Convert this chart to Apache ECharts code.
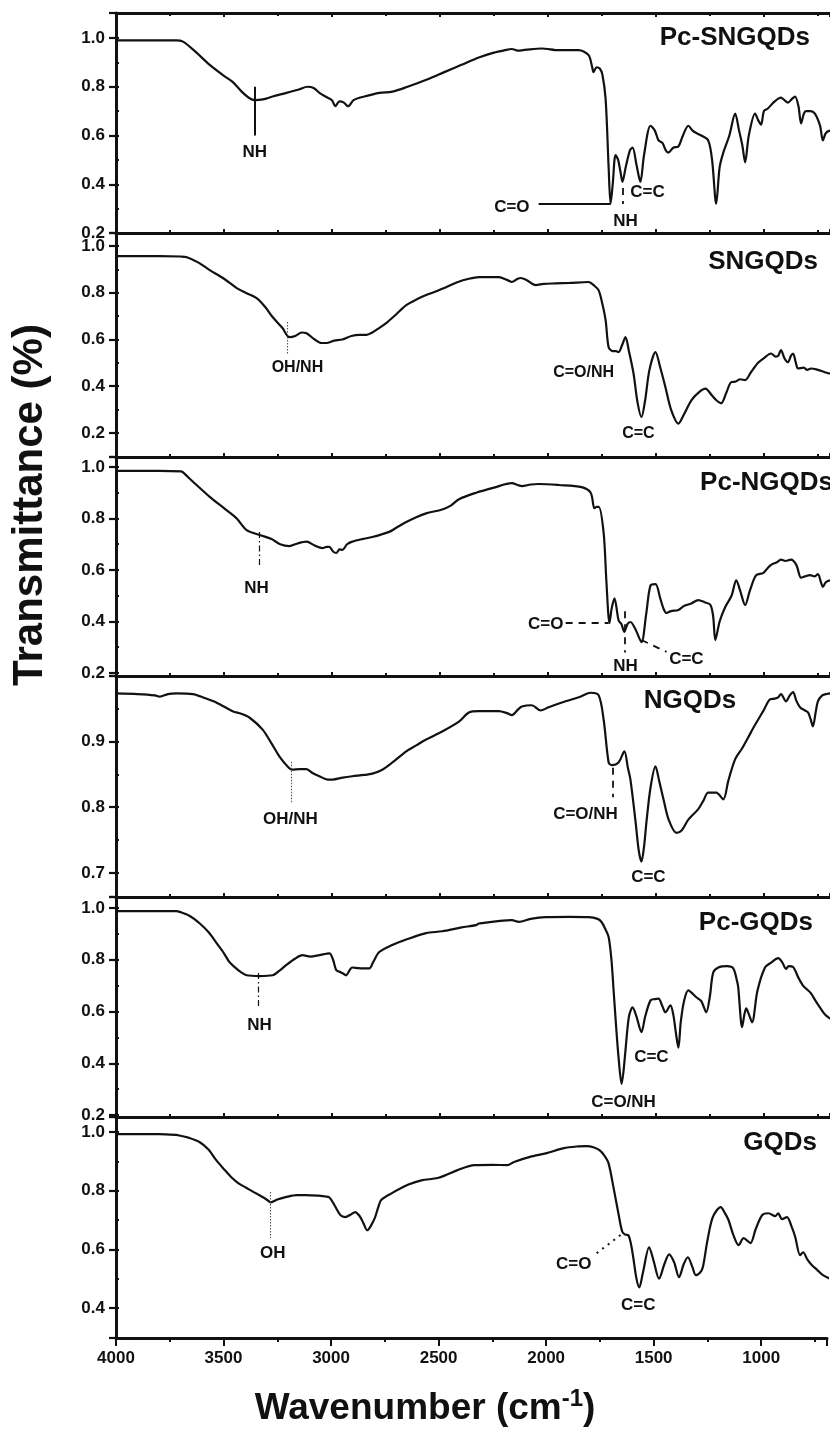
<!DOCTYPE html>
<html>
<head>
<meta charset="utf-8">
<title>FTIR spectra</title>
<script src="https://cdn.jsdelivr.net/npm/echarts@6/dist/echarts.min.js"></script>
<style>
  html, body { margin: 0; padding: 0; background: #fff; }
  #chart { width: 830px; height: 1431px; }
</style>
</head>
<body>
<div id="chart"></div>
<script>
// ---- Spectra: [wavenumber (cm-1), transmittance] ----
const pcSNGQDs = [
  [4000,0.99],[3800,0.99],[3720,0.99],[3690,0.985],[3640,0.95],[3566,0.89],[3500,0.845],[3460,0.82],
  [3418,0.78],[3385,0.755],[3358,0.745],[3320,0.748],[3275,0.76],[3211,0.775],[3150,0.79],[3114,0.80],
  [3085,0.795],[3058,0.775],[3030,0.76],[3000,0.745],[2985,0.72],[2965,0.74],[2945,0.735],[2925,0.72],
  [2900,0.745],[2850,0.76],[2780,0.775],[2720,0.78],[2650,0.80],[2560,0.83],[2480,0.86],[2400,0.89],
  [2320,0.92],[2250,0.94],[2200,0.95],[2167,0.955],[2140,0.948],[2100,0.952],[2029,0.957],[1950,0.95],
  [1858,0.95],[1812,0.93],[1795,0.88],[1789,0.86],[1775,0.88],[1760,0.875],[1748,0.85],[1733,0.75],
  [1719,0.47],[1710,0.32],[1700,0.40],[1687,0.52],[1675,0.50],[1664,0.45],[1655,0.41],[1640,0.47],
  [1620,0.54],[1608,0.55],[1590,0.48],[1572,0.41],[1555,0.52],[1525,0.64],[1505,0.62],[1488,0.58],
  [1470,0.57],[1455,0.54],[1442,0.53],[1420,0.55],[1396,0.555],[1375,0.60],[1350,0.64],[1330,0.62],
  [1313,0.61],[1290,0.60],[1258,0.58],[1240,0.50],[1221,0.32],[1205,0.47],[1188,0.53],[1160,0.60],
  [1133,0.69],[1115,0.62],[1100,0.56],[1087,0.49],[1070,0.60],[1041,0.69],[1025,0.66],[1013,0.645],
  [1000,0.70],[983,0.71],[950,0.74],[921,0.755],[905,0.745],[889,0.735],[870,0.75],[856,0.76],
  [840,0.72],[828,0.65],[815,0.69],[805,0.70],[785,0.70],[764,0.69],[740,0.64],[727,0.58],
  [713,0.61],[690,0.62],[650,0.60],[600,0.60]
];
const sNGQDs = [
  [4000,0.957],[3800,0.957],[3700,0.955],[3672,0.952],[3620,0.93],[3566,0.897],[3500,0.86],[3441,0.82],
  [3400,0.80],[3349,0.777],[3310,0.74],[3275,0.696],[3230,0.65],[3197,0.61],[3170,0.615],[3140,0.63],
  [3118,0.627],[3080,0.60],[3050,0.585],[3026,0.585],[2990,0.595],[2952,0.60],[2910,0.615],[2873,0.62],
  [2840,0.62],[2813,0.63],[2780,0.65],[2749,0.67],[2700,0.71],[2656,0.747],[2600,0.775],[2564,0.79],
  [2520,0.805],[2472,0.824],[2420,0.845],[2366,0.86],[2320,0.867],[2227,0.867],[2190,0.855],[2167,0.846],
  [2140,0.86],[2126,0.863],[2100,0.855],[2056,0.833],[2020,0.838],[1964,0.84],[1900,0.842],[1812,0.846],
  [1785,0.83],[1765,0.81],[1750,0.76],[1733,0.683],[1719,0.567],[1700,0.55],[1685,0.55],[1673,0.546],
  [1655,0.58],[1641,0.61],[1625,0.55],[1604,0.456],[1585,0.33],[1567,0.268],[1550,0.34],[1530,0.47],
  [1502,0.546],[1480,0.48],[1456,0.396],[1430,0.30],[1396,0.24],[1370,0.28],[1336,0.34],[1300,0.375],
  [1271,0.39],[1240,0.36],[1220,0.34],[1198,0.327],[1175,0.37],[1152,0.417],[1130,0.42],[1110,0.43],
  [1087,0.426],[1060,0.46],[1027,0.50],[1000,0.52],[967,0.54],[945,0.527],[934,0.53],[921,0.555],
  [905,0.52],[889,0.503],[875,0.53],[865,0.54],[852,0.50],[842,0.476],[815,0.48],[800,0.47],
  [782,0.476],[750,0.47],[718,0.46],[700,0.455],[600,0.45]
];
const pcNGQDs = [
  [4000,0.985],[3800,0.985],[3700,0.983],[3691,0.98],[3640,0.94],[3566,0.884],[3500,0.84],[3441,0.80],
  [3395,0.755],[3335,0.736],[3280,0.72],[3240,0.70],[3197,0.693],[3160,0.703],[3118,0.71],[3080,0.695],
  [3044,0.685],[3025,0.69],[3012,0.69],[2995,0.672],[2980,0.666],[2965,0.68],[2952,0.678],[2930,0.70],
  [2906,0.71],[2860,0.72],[2813,0.728],[2735,0.748],[2700,0.765],[2656,0.786],[2610,0.805],[2564,0.82],
  [2490,0.835],[2450,0.85],[2412,0.875],[2333,0.90],[2250,0.92],[2167,0.937],[2140,0.93],[2121,0.926],
  [2080,0.932],[2043,0.934],[1950,0.93],[1844,0.922],[1802,0.90],[1785,0.84],[1775,0.845],[1765,0.845],
  [1742,0.743],[1729,0.55],[1715,0.394],[1705,0.45],[1692,0.49],[1673,0.405],[1660,0.39],[1646,0.36],
  [1632,0.39],[1618,0.398],[1595,0.37],[1567,0.32],[1545,0.43],[1525,0.54],[1502,0.545],[1480,0.49],
  [1465,0.45],[1451,0.433],[1430,0.44],[1396,0.445],[1370,0.46],[1336,0.47],[1304,0.483],[1275,0.475],
  [1248,0.465],[1235,0.42],[1225,0.328],[1205,0.40],[1179,0.456],[1150,0.50],[1128,0.56],[1110,0.52],
  [1087,0.464],[1065,0.52],[1036,0.58],[1004,0.588],[985,0.605],[967,0.62],[940,0.63],[921,0.64],
  [900,0.635],[875,0.64],[850,0.62],[828,0.57],[810,0.575],[787,0.58],[765,0.575],[750,0.584],
  [735,0.55],[727,0.534],[713,0.553],[690,0.56],[600,0.55]
];
const nGQDs = [
  [4000,0.973],[3900,0.972],[3820,0.97],[3797,0.968],[3760,0.972],[3718,0.973],[3644,0.972],[3590,0.966],
  [3534,0.959],[3460,0.946],[3420,0.942],[3381,0.936],[3321,0.918],[3280,0.897],[3243,0.877],[3200,0.86],
  [3183,0.857],[3150,0.858],[3118,0.858],[3090,0.852],[3058,0.847],[3020,0.842],[2998,0.842],[2950,0.845],
  [2906,0.847],[2850,0.849],[2813,0.851],[2767,0.857],[2720,0.868],[2656,0.885],[2610,0.894],[2564,0.903],
  [2490,0.915],[2412,0.93],[2366,0.944],[2320,0.946],[2227,0.946],[2190,0.943],[2167,0.94],[2140,0.948],
  [2121,0.953],[2075,0.955],[2034,0.947],[1997,0.952],[1918,0.961],[1850,0.968],[1802,0.974],[1765,0.97],
  [1742,0.933],[1719,0.868],[1705,0.864],[1673,0.868],[1646,0.885],[1630,0.86],[1618,0.842],[1595,0.78],
  [1580,0.735],[1567,0.717],[1555,0.74],[1544,0.777],[1525,0.83],[1502,0.862],[1485,0.84],[1465,0.812],
  [1440,0.78],[1405,0.761],[1380,0.765],[1350,0.781],[1304,0.797],[1280,0.81],[1258,0.822],[1221,0.822],
  [1188,0.812],[1165,0.84],[1133,0.873],[1100,0.89],[1073,0.906],[1050,0.92],[1027,0.933],[1000,0.948],
  [972,0.964],[950,0.965],[934,0.967],[921,0.972],[898,0.961],[880,0.97],[865,0.975],[850,0.962],
  [833,0.952],[810,0.947],[796,0.944],[785,0.935],[773,0.923],[760,0.945],[750,0.961],[730,0.97],
  [713,0.972],[650,0.975],[600,0.975]
];
const pcGQDs = [
  [4000,0.988],[3800,0.988],[3720,0.988],[3705,0.985],[3660,0.97],[3612,0.94],[3570,0.905],[3534,0.864],
  [3500,0.825],[3474,0.79],[3430,0.757],[3395,0.74],[3335,0.737],[3275,0.74],[3240,0.76],[3211,0.78],
  [3170,0.805],[3137,0.818],[3100,0.812],[3058,0.818],[3012,0.825],[2995,0.80],[2980,0.76],[2960,0.752],
  [2945,0.745],[2934,0.74],[2918,0.76],[2906,0.77],[2880,0.768],[2860,0.767],[2827,0.767],[2810,0.79],
  [2781,0.83],[2721,0.857],[2650,0.88],[2564,0.903],[2490,0.91],[2400,0.925],[2333,0.934],[2320,0.94],
  [2167,0.953],[2135,0.946],[2080,0.958],[2010,0.965],[1900,0.966],[1812,0.965],[1770,0.958],[1752,0.946],
  [1735,0.92],[1719,0.888],[1706,0.80],[1696,0.682],[1685,0.55],[1673,0.422],[1659,0.32],[1650,0.37],
  [1641,0.45],[1625,0.58],[1608,0.616],[1590,0.58],[1567,0.52],[1550,0.58],[1525,0.643],[1505,0.648],
  [1488,0.65],[1470,0.62],[1456,0.597],[1433,0.624],[1419,0.585],[1408,0.52],[1396,0.46],[1385,0.56],
  [1370,0.64],[1350,0.682],[1313,0.655],[1290,0.64],[1267,0.597],[1250,0.66],[1235,0.75],[1211,0.77],
  [1170,0.775],[1142,0.767],[1125,0.72],[1119,0.694],[1101,0.54],[1090,0.59],[1082,0.612],[1070,0.59],
  [1055,0.558],[1030,0.68],[995,0.77],[965,0.79],[934,0.806],[915,0.79],[898,0.765],[885,0.775],
  [865,0.772],[840,0.73],[819,0.70],[800,0.685],[782,0.67],[760,0.64],[736,0.61],[713,0.585],
  [650,0.55],[600,0.53]
];
const gQDs = [
  [4000,0.993],[3800,0.993],[3720,0.99],[3705,0.988],[3660,0.98],[3612,0.966],[3570,0.94],[3534,0.904],
  [3500,0.875],[3460,0.843],[3430,0.825],[3395,0.81],[3360,0.795],[3335,0.785],[3300,0.77],[3280,0.76],
  [3250,0.77],[3211,0.778],[3160,0.785],[3118,0.785],[3060,0.783],[3026,0.78],[3010,0.778],[2998,0.768],
  [2980,0.745],[2957,0.717],[2934,0.71],[2910,0.718],[2887,0.727],[2875,0.72],[2864,0.71],[2850,0.69],
  [2832,0.665],[2815,0.68],[2795,0.71],[2780,0.745],[2767,0.768],[2721,0.79],[2643,0.82],[2580,0.835],
  [2504,0.843],[2460,0.855],[2412,0.87],[2333,0.887],[2250,0.888],[2181,0.887],[2149,0.898],[2075,0.915],
  [1997,0.928],[1918,0.945],[1850,0.951],[1812,0.952],[1780,0.948],[1752,0.938],[1730,0.92],[1710,0.894],
  [1687,0.812],[1664,0.723],[1646,0.66],[1632,0.65],[1618,0.648],[1606,0.62],[1595,0.573],[1580,0.50],
  [1567,0.47],[1550,0.52],[1521,0.607],[1500,0.56],[1475,0.50],[1450,0.55],[1428,0.583],[1405,0.556],
  [1382,0.505],[1360,0.55],[1341,0.573],[1320,0.54],[1304,0.512],[1285,0.52],[1271,0.54],[1250,0.63],
  [1225,0.71],[1188,0.744],[1170,0.725],[1152,0.70],[1130,0.65],[1105,0.614],[1082,0.638],[1065,0.63],
  [1050,0.621],[1025,0.67],[995,0.717],[967,0.723],[934,0.713],[921,0.723],[903,0.703],[880,0.71],
  [860,0.68],[842,0.643],[819,0.58],[805,0.59],[785,0.565],[764,0.546],[740,0.53],[713,0.512],
  [650,0.49],[600,0.47]
];

// Panel names, top to bottom
const sampleNames = ['Pc-SNGQDs', 'SNGQDs', 'Pc-NGQDs', 'NGQDs', 'Pc-GQDs', 'GQDs'];
const spectra = [pcSNGQDs, sNGQDs, pcNGQDs, nGQDs, pcGQDs, gQDs];

// Axis ranges
const xRange = [694, 4000];        // cm-1, drawn high -> low
const xStep = 500;
const yRanges = [[0.2, 1.1026], [0.0973, 1.0556], [0.1883, 1.0388], [0.6634, 0.9995], [0.1923, 1.0425], [0.2977, 1.0511]];
const yLabelSteps = [0.2, 0.2, 0.2, 0.1, 0.2, 0.2];

// Band assignments: label text and where it sits, plus guide lines
const bandLabels = [
  [['NH', 3358, 0.53], ['C=O', 2167, 0.305], ['NH', 1641, 0.248], ['C=C', 1539, 0.365]],
  [['OH/NH', 3160, 0.478], ['C=O/NH', 1835, 0.457], ['C=C', 1581, 0.196]],
  [['NH', 3349, 0.53], ['C=O', 2010, 0.388], ['NH', 1641, 0.225], ['C=C', 1359, 0.252]],
  [['OH/NH', 3192, 0.781], ['C=O/NH', 1826, 0.789], ['C=C', 1535, 0.694]],
  [['NH', 3335, 0.548], ['C=C', 1521, 0.424], ['C=O/NH', 1650, 0.25]],
  [['OH', 3271, 0.587], ['C=O', 1872, 0.55], ['C=C', 1572, 0.41]]
];
const labelSizes = [17, 16, 17, 17, 17, 17];

const SOLID = { type: 'solid', width: 2 };
const DASH = { type: [7, 6], width: 1.8 };
const DASHDOT = { type: [6, 3, 1.5, 3], width: 1.2 };
const DOT = { type: [1.5, 1.5], width: 1.1, color: '#555' };
const DOT_WIDE = { type: [2, 5], width: 2 };
const bandGuides = [
  [[[3358, 0.80], [3358, 0.60], SOLID], [[2043, 0.318], [1710, 0.318], SOLID], [[1655, 0.385], [1655, 0.319], DASH]],
  [[[3206, 0.675], [3206, 0.534], DOT]],
  [[[3335, 0.748], [3335, 0.619], DASHDOT], [[1918, 0.394], [1719, 0.394], DASH],
   [[1646, 0.44], [1646, 0.28], DASH], [[1567, 0.328], [1451, 0.282], DASH]],
  [[[3187, 0.869], [3187, 0.807], DOT], [[1701, 0.86], [1701, 0.815], DASH]],
  [[[3340, 0.749], [3340, 0.614], DASHDOT]],
  [[[3284, 0.795], [3284, 0.639], DOT], [[1765, 0.587], [1641, 0.656], DOT_WIDE]]
];

// ---- Layout ----
const FONT = '"Liberation Sans", Arial, Helvetica, sans-serif';
const INK = '#111';
const panelTops = [13, 233, 457, 676, 897, 1117];
const panelHeights = [220, 224, 219, 221, 220, 221];
const namePos = [[810, 38], [818, 262], [833, 483], [690, 701], [813, 923], [817, 1143]];
const nameAlign = ['right', 'right', 'right', 'center', 'right', 'right'];

const chart = echarts.init(document.getElementById('chart'), null, { renderer: 'canvas' });

const grids = [], xAxes = [], yAxes = [], series = [];
const last = spectra.length - 1;

spectra.forEach((data, i) => {
  // the frame is built from the axis lines, so the plot runs open past the right edge
  grids.push({ left: 116, right: 0, top: panelTops[i], height: panelHeights[i], show: false });
  const isBottom = i === last;
  xAxes.push({
    type: 'value', gridIndex: i, inverse: true, min: xRange[0], max: xRange[1],
    minInterval: xStep, maxInterval: xStep, position: 'bottom',
    axisLine: { show: true, lineStyle: { color: INK, width: 3 } },
    axisTick: { show: true, inside: !isBottom, length: isBottom ? 8 : 4, lineStyle: { color: INK, width: 2 } },
    minorTick: { show: true, splitNumber: 2, length: isBottom ? 4 : 3, lineStyle: { color: INK, width: 2 } },
    splitLine: { show: false },
    axisLabel: {
      show: isBottom, margin: 12, color: INK, fontFamily: FONT, fontWeight: 'bold', fontSize: 17,
      formatter: v => (v % xStep === 0 ? String(v) : '')
    }
  });
  const [lo, hi] = yRanges[i];
  const step = yLabelSteps[i];
  // labelled axis with outward ticks
  yAxes.push({
    type: 'value', gridIndex: i, min: lo, max: hi, minInterval: step, maxInterval: step, position: 'left',
    axisLine: { show: true, lineStyle: { color: INK, width: 3 } },
    axisTick: { show: true, inside: false, length: 7, lineStyle: { color: INK, width: 2.2 } },
    splitLine: { show: false },
    axisLabel: {
      margin: 11, color: INK, fontFamily: FONT, fontWeight: 'bold', fontSize: 17,
      formatter: v => (Math.abs(v / step - Math.round(v / step)) < 1e-6 ? v.toFixed(1) : '')
    }
  });
  // unlabelled companion axis carrying the short inward ticks
  yAxes.push({
    type: 'value', gridIndex: i, min: lo, max: hi, minInterval: step / 2, maxInterval: step / 2, position: 'left',
    axisLine: { show: false }, splitLine: { show: false }, axisLabel: { show: false },
    axisTick: { show: true, inside: true, length: 3, lineStyle: { color: INK, width: 2 } }
  });

  series.push({
    type: 'line', name: sampleNames[i], xAxisIndex: i, yAxisIndex: 2 * i, data: data,
    showSymbol: false, smooth: 0.3, clip: true, silent: true,
    lineStyle: { color: INK, width: 2.2 },
    markLine: {
      silent: true, symbol: ['none', 'none'], label: { show: false },
      data: bandGuides[i].map(([a, b, style]) => [
        { coord: a, lineStyle: Object.assign({ color: INK }, style) },
        { coord: b }
      ])
    },
    markPoint: {
      silent: true, symbol: 'circle', symbolSize: 1,
      itemStyle: { color: 'rgba(0,0,0,0)' },
      label: {
        show: true, position: 'inside', formatter: '{b}', color: INK,
        fontFamily: FONT, fontWeight: 'bold', fontSize: labelSizes[i]
      },
      data: bandLabels[i].map(([text, x, y]) => ({ name: text, coord: [x, y] }))
    }
  });
});

// top edge of the first panel
xAxes.push({
  type: 'value', gridIndex: 0, inverse: true, min: xRange[0], max: xRange[1],
  minInterval: xStep, maxInterval: xStep, position: 'top',
  axisLine: { show: true, lineStyle: { color: INK, width: 3 } },
  axisTick: { show: true, inside: true, length: 4, lineStyle: { color: INK, width: 2 } },
  minorTick: { show: true, splitNumber: 2, length: 3, lineStyle: { color: INK, width: 2 } },
  splitLine: { show: false }, axisLabel: { show: false }
});

const graphics = sampleNames.map((name, i) => ({
  type: 'text', x: namePos[i][0], y: namePos[i][1], silent: true,
  style: {
    text: name, fill: INK, font: 'bold 26px ' + FONT,
    textAlign: nameAlign[i], textVerticalAlign: 'middle'
  }
}));
graphics.push({
  type: 'text', x: 30, y: 505, rotation: Math.PI / 2, silent: true,
  style: { text: 'Transmittance (%)', fill: INK, font: 'bold 42px ' + FONT, textAlign: 'center', textVerticalAlign: 'middle' }
});
graphics.push({
  type: 'text', x: 425, y: 1405, silent: true,
  style: {
    text: '{a|Wavenumber (cm}{s|-1}{a|)}', textAlign: 'center', textVerticalAlign: 'middle',
    rich: {
      a: { fontFamily: FONT, fontWeight: 'bold', fontSize: 37, fill: INK, verticalAlign: 'bottom', lineHeight: 44 },
      s: { fontFamily: FONT, fontWeight: 'bold', fontSize: 24, fill: INK, verticalAlign: 'bottom', lineHeight: 44, padding: [0, 0, 16, 0] }
    }
  }
});

chart.setOption({
  animation: false,
  backgroundColor: '#fff',
  grid: grids,
  xAxis: xAxes,
  yAxis: yAxes,
  series: series,
  graphic: graphics
});
</script>
</body>
</html>
